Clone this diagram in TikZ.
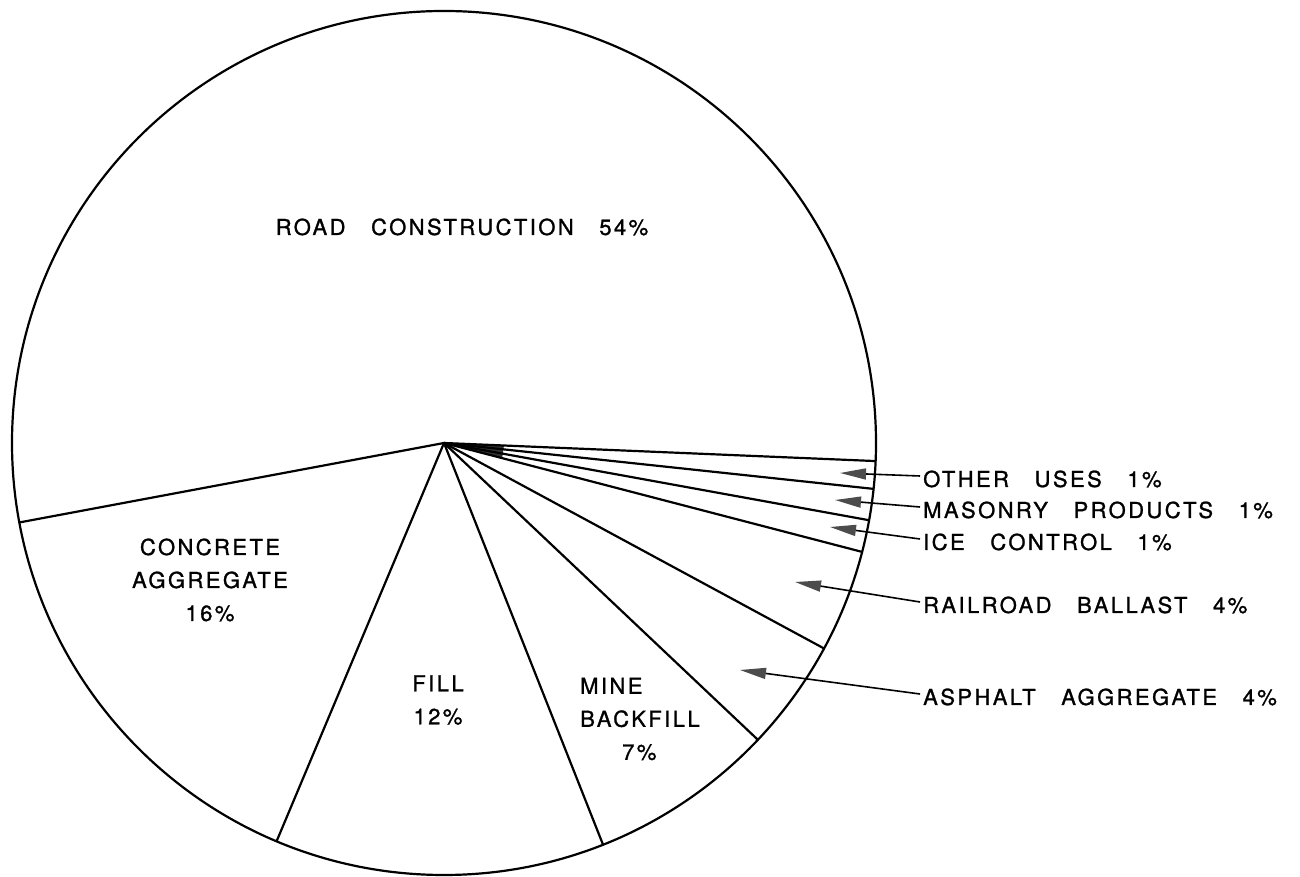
\documentclass[tikz,border=0pt]{standalone}
\usepackage{fontspec}
\setmainfont{TeX Gyre Heros}[LetterSpace=11,WordSpace=3,FakeBold=1.2]
\usepackage{tikz}
\usetikzlibrary{arrows.meta}
\usetikzlibrary{calc}
\newcommand\pierad{432}
\newcommand\pielinewd{2.2pt}
\newcommand\calloutwd{1.6pt}
\definecolor{headcolour}{gray}{0.3}
\tikzset{
  pie/.style={line width=\pielinewd, line join=round},
  callout/.style={line width=\calloutwd,
    -{Triangle[length=26pt,width=11pt,color=headcolour]}},
  slicetext/.style={font=\fontsize{22}{33}\selectfont, inner sep=0pt, align=center},
  sidetext/.style={font=\fontsize{22}{25}\selectfont, inner sep=3pt, anchor=west},
}
\newcommand\callout[2]{\draw[callout] ([yshift=3pt]#1.west) -- (#2);}

\begin{document}
\begin{tikzpicture}[x=1pt,y=1pt]
  \useasboundingbox (0,0) rectangle (1300,877);
  \coordinate (centre) at (444,434);
  % ink where the thin slices meet
  \fill[black!80] (centre) -- +(357.8:60) -- +(346:60) -- cycle;
  % outline and slice edges
  \draw[pie] (centre) circle[radius=\pierad];
  \foreach \edge in {357.6,353.9,349.7,345.4,331.6,316.6,291.6,247.2,190.6}
    \draw[pie] (centre) -- +(\edge:\pierad);
  % texts inside the slices
  \node[slicetext] (road) at (462,650) {ROAD CONSTRUCTION 54\%};
  \node[slicetext] (concrete) at (210,297) {CONCRETE\\AGGREGATE\\16\%};
  \node[slicetext] (fill) at (438,177) {FILL\\12\%};
  \node[slicetext, align=left, anchor=west] (backfill) at (580,158)
    {MINE\\BACKFILL\\\hspace*{42pt}7\%};
  % texts beside the pie
  \node[sidetext] (other) at (920,398) {OTHER USES 1\%};
  \node[sidetext] (masonry) at (920,367) {MASONRY PRODUCTS 1\%};
  \node[sidetext] (ice) at (920,335) {ICE CONTROL 1\%};
  \node[sidetext] (railroad) at (920,272) {RAILROAD BALLAST 4\%};
  \node[sidetext] (asphalt) at (920,180) {ASPHALT AGGREGATE 4\%};
  % arrow tips
  \coordinate (othertip) at (840,404);
  \coordinate (masonrytip) at (835,377);
  \coordinate (icetip) at (830,350);
  \coordinate (railroadtip) at (795,295);
  \coordinate (asphalttip) at (740,207);
  % callouts
  \callout{other}{othertip}
  \callout{masonry}{masonrytip}
  \callout{ice}{icetip}
  \callout{railroad}{railroadtip}
  \callout{asphalt}{asphalttip}
\end{tikzpicture}
\end{document}
